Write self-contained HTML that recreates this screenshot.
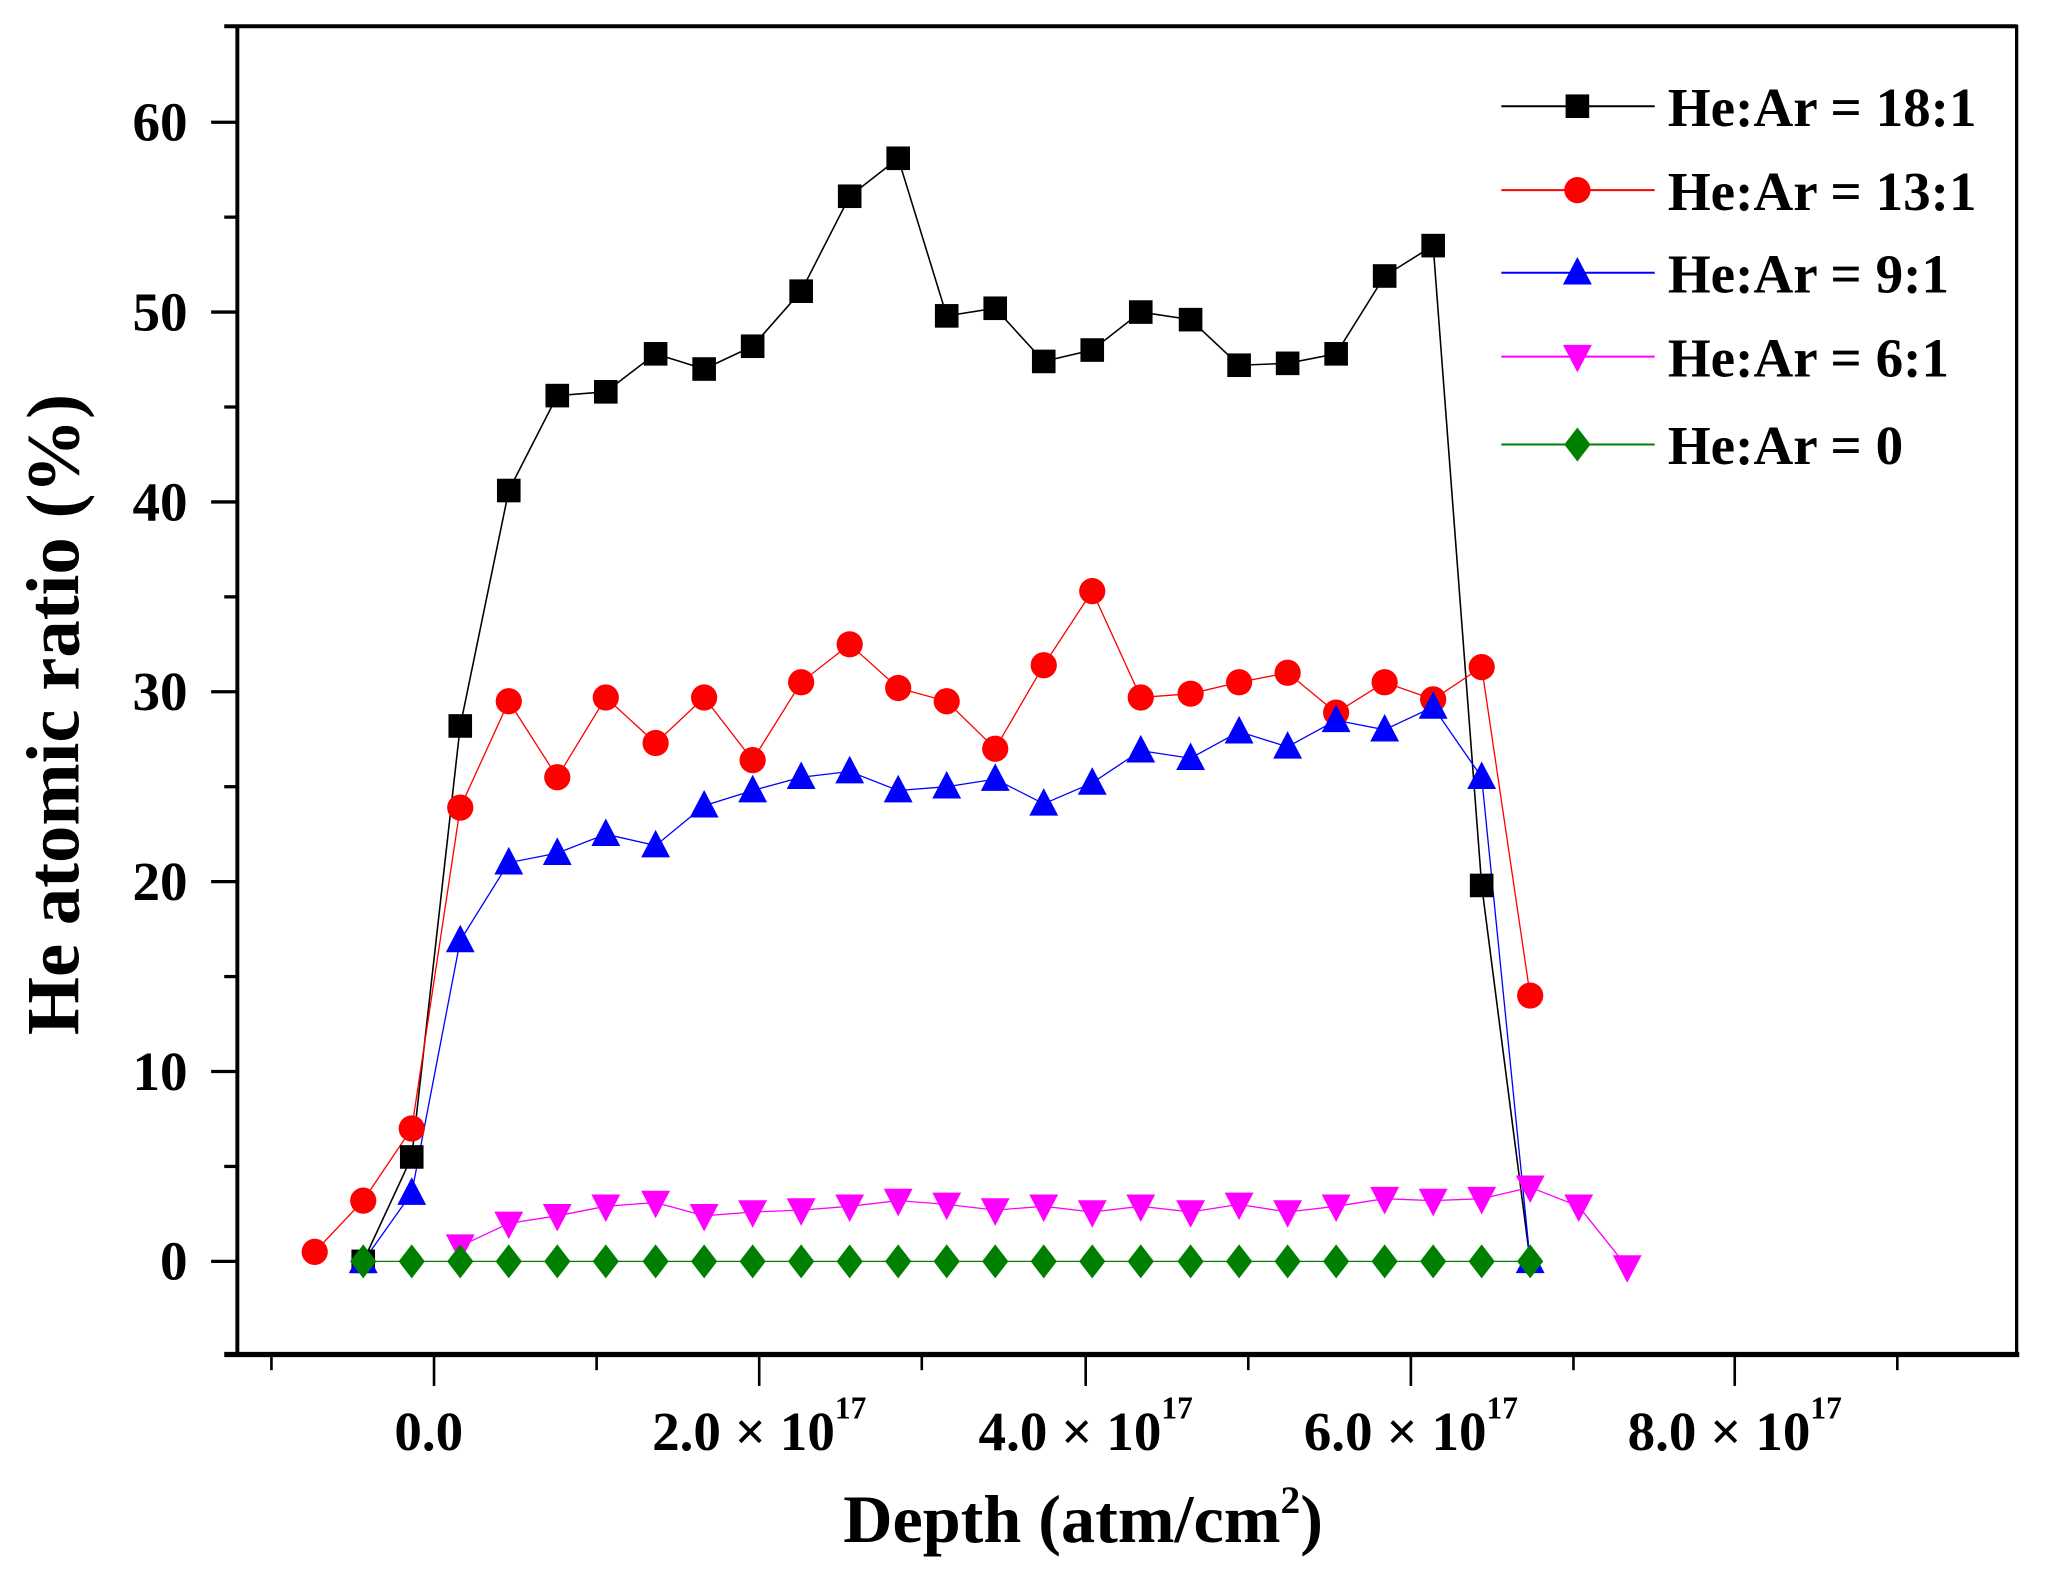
<!DOCTYPE html>
<html><head><meta charset="utf-8"><style>
html,body{margin:0;padding:0;background:#fff;width:2056px;height:1591px;overflow:hidden}
svg{display:block}
text{font-family:"Liberation Serif",serif;font-weight:bold;fill:#000}
</style></head><body>
<svg id="s" width="2056" height="1591" viewBox="0 0 1568 1213.4" xmlns="http://www.w3.org/2000/svg">
<rect x="0" y="0" width="1568" height="1214" fill="#fff"/>
<g id="ax"></g>
<g id="data"></g>
<g id="leg"></g>
<text x="60" y="545" font-size="57" text-anchor="middle" transform="rotate(-90 60 545)">He atomic ratio (%)</text>
<text x="826" y="1176" font-size="52" text-anchor="middle">Depth (atm/cm<tspan font-size="30" dy="-22">2</tspan><tspan dy="22">)</tspan></text>
</svg>
<script>
const NS="http://www.w3.org/2000/svg";
function el(p,t,a,txt){const e=document.createElementNS(NS,t);for(const k in a)e.setAttribute(k,a[k]);if(txt!==undefined)e.textContent=txt;document.getElementById(p).appendChild(e);return e;}
const L=181,R=1538,T=20,B=1033;
const Y=v=>962-14.48*v;
el('ax','rect',{x:L,y:T,width:R-L,height:B-T,fill:'none',stroke:'#000','stroke-width':2.5});
el('ax','line',{x1:L-10,y1:B,x2:R+2,y2:B,stroke:'#000','stroke-width':4});
el('ax','line',{x1:L,y1:T-1,x2:L,y2:B,stroke:'#000','stroke-width':3});
el('ax','line',{x1:L-10,y1:T,x2:R,y2:T,stroke:'#000','stroke-width':3});
for(let v=-5;v<=65;v+=5){const y=Y(v);const maj=v%10===0;if(y<T+2||y>B-2)continue;
 el('ax','line',{x1:L-(maj?20:10),y1:y,x2:L,y2:y,stroke:'#000','stroke-width':2.5});
 if(maj)el('ax','text',{x:L-38,y:y+14,'font-size':42,'text-anchor':'end'},String(v));}
const xs=[207,331,455,579,703,828,952,1076,1200,1323,1447];
xs.forEach((x,i)=>{const maj=i%2===1;el('ax','line',{x1:x,y1:B,x2:x,y2:B+(maj?24:12),stroke:'#000','stroke-width':2});});
el('ax','text',{x:327,y:1106,'font-size':42,'text-anchor':'middle'},'0.0');
[[579,'2.0'],[828,'4.0'],[1076,'6.0'],[1323,'8.0']].forEach(([x,l])=>{
 const t=el('ax','text',{x:x,y:1106,'font-size':42,'text-anchor':'middle'});
 t.innerHTML=l+' × 10<tspan font-size="24" dy="-24">17</tspan>';});
const X=[277,314,351,388,425,462,500,537,574,611,648,685,722,759,796,833,870,908,945,982,1019,1056,1093,1130,1167,1204,1241];
function pts(start,vals){return vals.map((v,i)=>[X[start+i],Y(v)]);}
const green=pts(0,Array(25).fill(0));
const black=pts(0,[0,5.5,28.2,40.6,45.6,45.8,47.8,47.0,48.2,51.1,56.1,58.1,49.8,50.2,47.4,48.0,50.0,49.6,47.2,47.3,47.8,51.9,53.5,19.8]);
const red=[[240,Y(0.5)]].concat(pts(0,[3.2,7.0,23.9,29.5,25.5,29.7,27.3,29.7,26.4,30.5,32.5,30.2,29.5,27.0,31.4,35.3,29.7,29.9,30.5,31.0,28.9,30.5,29.6,31.3,14.0]));
const blue=pts(0,[0,3.6,16.9,21.0,21.5,22.5,21.9,24.0,24.8,25.5,25.8,24.8,25.0,25.4,24.1,25.2,26.9,26.5,27.9,27.1,28.5,28.0,29.2,25.5,0]);
const mag=pts(2,[0.8,2.0,2.4,2.9,3.1,2.4,2.6,2.7,2.9,3.2,3.0,2.7,2.9,2.6,2.9,2.6,3.0,2.6,2.9,3.3,3.2,3.3,3.9,2.9,-0.3]);
function line(p,c,w){el('data','polyline',{points:p.map(q=>q.join(',')).join(' '),fill:'none',stroke:c,'stroke-width':w});}
function mk(g,type,x,y,c){
 if(type==='sq')el(g,'rect',{x:x-9,y:y-9,width:18,height:18,fill:c});
 else if(type==='ci')el(g,'circle',{cx:x,cy:y,r:10,fill:c});
 else if(type==='up')el(g,'polygon',{points:`${x-11},${y+9} ${x+11},${y+9} ${x},${y-12}`,fill:c});
 else if(type==='dn')el(g,'polygon',{points:`${x-11},${y-9} ${x+11},${y-9} ${x},${y+12}`,fill:c});
 else if(type==='di')el(g,'polygon',{points:`${x},${y-13} ${x+10},${y} ${x},${y+13} ${x-10},${y}`,fill:c});}
const series=[[black,'sq','#000'],[red,'ci','#f00'],[blue,'up','#00f'],[mag,'dn','#f0f'],[green,'di','#008000']];
line(black.concat([[1167,Y(0)]]),'#000',1.2);
line(red,'#f00',1);line(blue,'#00f',1);line(mag,'#f0f',1);line(green,'#008000',1);
series.forEach(([p,t,c])=>p.forEach(q=>mk('data',t,q[0],q[1],c)));
const labs=['He:Ar = 18:1','He:Ar = 13:1','He:Ar = 9:1','He:Ar = 6:1','He:Ar = 0'];
const ly=[81,145,208,272,339];
series.forEach(([p,t,c],i)=>{el('leg','line',{x1:1145,y1:ly[i],x2:1262,y2:ly[i],stroke:c,'stroke-width':1.5});
 mk('leg',t,1203,ly[i],c);
 el('leg','text',{x:1272,y:ly[i]+15,'font-size':42},labs[i]);});
</script>
</body></html>
